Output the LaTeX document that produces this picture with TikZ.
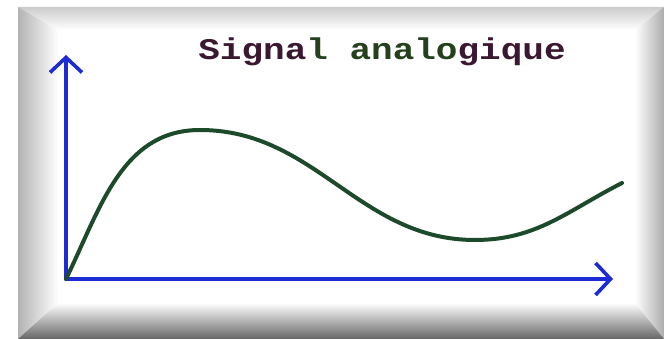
\documentclass[tikz,border=0pt]{standalone}
\usepackage{fontspec}
\usepackage{tikz}
\usetikzlibrary{positioning,calc,arrows.meta}
\newfontfamily\titlefont{Liberation Mono}[FakeStretch=1.2]
\definecolor{axisblue}{HTML}{1C2BD4}
\definecolor{signalgreen}{HTML}{1E4A2C}
\definecolor{textmaroon}{HTML}{3A1830}
\definecolor{textgreen}{HTML}{24401C}
\tikzset{
  axis/.style={draw=axisblue,line width=3.6pt,line cap=round,line join=round,
    -{Straight Barb[length=15pt,width=32pt,line width=3.6pt]}},
  signal/.style={draw=signalgreen,line width=4pt,line cap=round},
}

\begin{document}
\begin{tikzpicture}[x=1pt,y=1pt]
		\useasboundingbox (0,0) rectangle (664,339);
		\fill[white] (0,0) rectangle (664,339);
		% bevelled frame
		\fill[white] (58,36) rectangle (635,309);
		\shade[top color=gray!40,bottom color=white] (18,332) -- (664,332) -- (635,309) -- (58,309) -- cycle;
		\shade[left color=gray!60,right color=white] (18,0) -- (58,36) -- (58,309) -- (18,332) -- cycle;
		\shade[left color=white,right color=gray!65] (635,36) -- (664,0) -- (664,332) -- (635,309) -- cycle;
		\shade[top color=white,bottom color=gray!80!black] (18,0) -- (664,0) -- (635,36) -- (58,36) -- cycle;

		\coordinate (O) at (66,60);
		\coordinate (ytip) at (66,284);
		\coordinate (xtip) at (613,60);
		\coordinate (peak) at (200,209);
		\coordinate (trough) at (475,99);
		\coordinate (end) at (622,156);

		\draw[axis] (O) -- (ytip);
		\draw[axis] (O) -- (xtip);
		\draw[signal] (O) to[out=64,in=180] (peak) to[out=0,in=180] (trough) to[out=0,in=207] (end);

		\node (title) at (382,287) {\titlefont\bfseries\fontsize{30}{32}\selectfont
			\textcolor{textmaroon}{Signa}\textcolor{textgreen}{l analo}\textcolor{textmaroon}{gique}};
	\end{tikzpicture}
\end{document}
